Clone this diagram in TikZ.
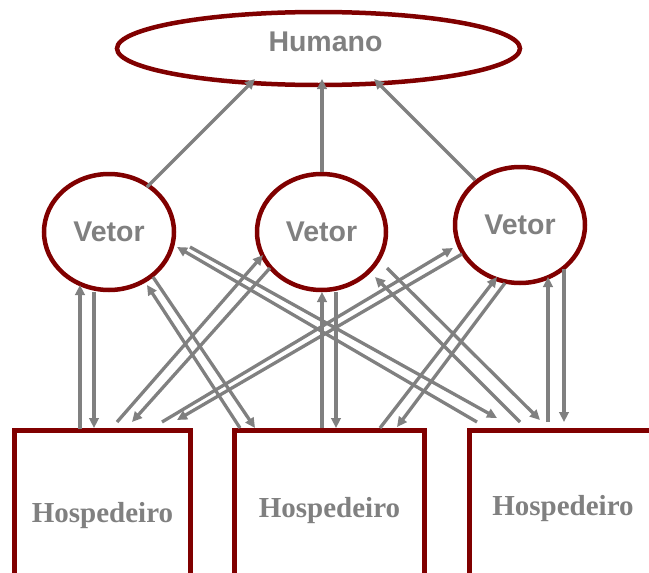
\documentclass[tikz,border=0pt]{standalone}
\usepackage{fontspec}
\setmainfont{Liberation Serif}
\setsansfont{Liberation Sans}
\usetikzlibrary{shapes.geometric,arrows.meta,calc}
\definecolor{maroonc}{HTML}{800000}
\definecolor{grayc}{HTML}{808080}
\tikzset{
  vecell/.style={ellipse,draw=maroonc,line width=4.5pt,inner sep=0pt,text=grayc,
    font=\sffamily\bfseries\fontsize{28.5}{30}\selectfont},
  hostbox/.style={rectangle,draw=maroonc,line width=5pt,inner sep=0pt,text=grayc,
    font=\rmfamily\bfseries\fontsize{29}{30}\selectfont},
  conn/.style={draw=grayc,line width=3.3pt,-{Triangle[length=10pt,width=9.5pt]}}
}
\begin{document}
\begin{tikzpicture}[x=1pt,y=-1pt]
\useasboundingbox (0,0) rectangle (649,573);
\clip (0,0) rectangle (649,573);
% nodes
\node[vecell,minimum width=403pt,minimum height=73pt,
  label={[name=humtxt,text=grayc,font=\sffamily\bfseries\fontsize{28.5}{30}\selectfont,xshift=7pt,yshift=6.7pt]center:Humano}] (hum) at (318.5,48.5) {};
\node[vecell,minimum width=130pt,minimum height=116pt] (v1) at (109,232) {Vetor};
\node[vecell,minimum width=129pt,minimum height=116pt] (v2) at (321.5,232) {Vetor};
\node[vecell,minimum width=130pt,minimum height=116pt] (v3) at (520,225) {Vetor};
\node[hostbox,minimum width=176pt,minimum height=170pt,anchor=north west] (h1) at (12,428) {Hospedeiro};
\node[hostbox,minimum width=190pt,minimum height=160pt,anchor=north west] (h2) at (232,428) {Hospedeiro};
\node[hostbox,minimum width=187pt,minimum height=156pt,anchor=north west] (h3) at (467,428) {Hospedeiro};
% vector -> human
\draw[conn] ($(v1)+(38,-45)$) -- ($(hum)+(-63.5,30.5)$);
\draw[conn] ($(v2)+(0.5,-60)$) -- ($(hum)+(3.5,30.5)$);
\draw[conn] ($(v3)+(-45,-45)$) -- ($(hum)+(55.5,30.5)$);
% host 1
\draw[conn] ($(h1.north west)+(68,1)$) -- ($(v1)+(-29,53)$);
\draw[conn] ($(v1)+(-15,60)$) -- ($(h1.north west)+(82,0)$);
\draw[conn] ($(h1.north west)+(105,-6)$) -- ($(v2)+(-58.5,23)$);
\draw[conn] ($(v2)+(-51.5,36)$) -- ($(h1.north west)+(120,-6)$);
\draw[conn] ($(h1.north west)+(150,-6)$) -- ($(v3)+(-67,23)$);
\draw[conn] ($(v3)+(-58,29)$) -- ($(h1.north west)+(165,-8)$);
% host 2
\draw[conn] ($(v1)+(44,45)$) -- ($(h2.north west)+(23,0)$);
\draw[conn] ($(h2.north west)+(8,0)$) -- ($(v1)+(38,53)$);
\draw[conn] ($(h2.north west)+(90,0)$) -- ($(v2)+(0.5,60)$);
\draw[conn] ($(v2)+(14.5,60)$) -- ($(h2.north west)+(104,0)$);
\draw[conn] ($(h2.north west)+(148,0)$) -- ($(v3)+(-23,52)$);
\draw[conn] ($(v3)+(-15,58)$) -- ($(h2.north west)+(165,-1)$);
% host 3
\draw[conn] ($(v1)+(81,15)$) -- ($(h3.north west)+(30,-10)$);
\draw[conn] ($(h3.north west)+(10,-6)$) -- ($(v1)+(68,15)$);
\draw[conn] ($(v2)+(65.5,36)$) -- ($(h3.north west)+(73,-8)$);
\draw[conn] ($(h3.north west)+(53,-6)$) -- ($(v2)+(53.5,45)$);
\draw[conn] ($(h3.north west)+(81,-6)$) -- ($(v3)+(28,52)$);
\draw[conn] ($(v3)+(44,44)$) -- ($(h3.north west)+(97,-6)$);
\end{tikzpicture}
\end{document}
